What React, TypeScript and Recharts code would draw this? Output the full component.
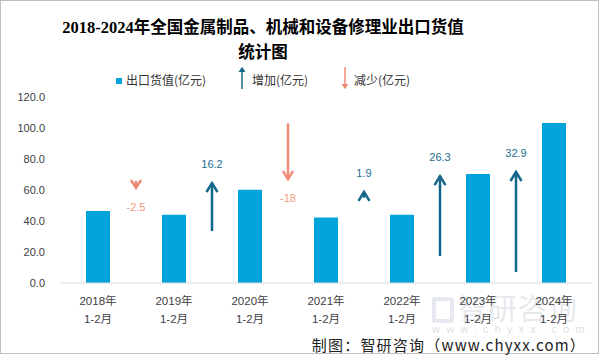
import React from 'react';
import { ComposedChart, Bar, XAxis, YAxis, ReferenceLine } from 'recharts';

const years = ['2018年', '2019年', '2020年', '2021年', '2022年', '2023年', '2024年'];
const months = ['1-2月', '1-2月', '1-2月', '1-2月', '1-2月', '1-2月', '1-2月'];
const exportValues = [46.5, 44.0, 60.2, 42.2, 44.1, 70.4, 103.3];
const yTicks = [0, 20, 40, 60, 80, 100, 120];

// arrows sit on the boundary before each later year: label, tail value, tip value
const changeLabels = ['-2.5', '16.2', '-18', '1.9', '26.3', '32.9'];
const arrowYear = ['2019年', '2020年', '2021年', '2022年', '2023年', '2024年'];
const arrowTail = [66, 33.5, 103, 55, 17.4, 7.1];
const arrowTip = [61.3, 64.5, 67, 58.8, 69, 71.6];

const data = years.map((y, i) => ({ year: y, month: months[i], value: exportValues[i] }));

const UP = '#14678A';
const DOWN = '#EE8A74';
const BAR = '#00A3DA';

const CatTick = (props: any) => {
  const { x, y, payload } = props;
  return (
    <text x={x} textAnchor="middle" fontSize={11.5} fill="#404040" fontFamily="'Liberation Sans', 'Noto Sans CJK SC'">
      <tspan x={x} y={y + 14}>{payload.value}</tspan>
      <tspan x={x} y={y + 32}>{months[payload.index]}</tspan>
    </text>
  );
};

const arrowShape = (label: string) => (p: any) => {
  const { x1, y1, x2, y2 } = p;
  const up = y2 < y1;
  const c = up ? UP : DOWN;
  const s = up ? 1 : -1;
  const hw = up ? 5.5 : 5;
  const hh = up ? 9 : 8;
  return (
    <g>
      <line x1={x1} y1={y1} x2={x2} y2={y2} stroke={c} strokeWidth={2.5} />
      <polyline
        points={`${x2 - hw},${y2 + s * hh} ${x2},${y2} ${x2 + hw},${y2 + s * hh}`}
        fill="none"
        stroke={c}
        strokeWidth={2.5}
      />
      <text
        x={x2}
        y={y2 - s * 19}
        textAnchor="middle"
        dominantBaseline="central"
        fontSize={11}
        fill={up ? '#1C6E92' : '#F09A80'}
        fontFamily="'Liberation Sans', sans-serif"
      >
        {label}
      </text>
    </g>
  );
};

export default function App() {
  return (
    <div style={{ position: 'absolute', left: 0, top: 0, width: 601, height: 356, background: '#fff', overflow: 'hidden' }}>
      <div
        style={{
          position: 'absolute', left: 0, top: 0, width: 599, height: 354,
          border: '1px solid #BFBFBF', boxSizing: 'border-box',
        }}
      />
      <div
        style={{
          position: 'absolute', left: 0, top: 15, width: 526, textAlign: 'center',
          fontFamily: "'Liberation Serif', 'Noto Sans CJK SC'", fontWeight: 'bold', fontSize: 16.5,
          lineHeight: '25px', color: '#000',
        }}
      >
        2018-2024年全国金属制品、机械和设备修理业出口货值
        <br />
        统计图
      </div>
      {/* legend */}
      <div style={{ position: 'absolute', left: 0, top: 66, width: 601, height: 26, fontFamily: "'Noto Sans CJK SC'", fontSize: 12, color: '#333' }}>
        <div style={{ position: 'absolute', left: 116, top: 12, width: 6, height: 6, background: BAR }} />
        <div style={{ position: 'absolute', left: 126, top: 5, lineHeight: '18px' }}>出口货值(亿元)</div>
        <svg style={{ position: 'absolute', left: 236, top: 0 }} width={12} height={24}>
          <line x1={6} y1={2} x2={6} y2={23} stroke={UP} strokeWidth={1.5} />
          <polyline points="3,6 6,1.5 9,6" fill={UP} stroke={UP} strokeWidth={1} />
        </svg>
        <div style={{ position: 'absolute', left: 252, top: 5, lineHeight: '18px' }}>增加(亿元)</div>
        <svg style={{ position: 'absolute', left: 339, top: 0 }} width={12} height={24}>
          <line x1={6} y1={1} x2={6} y2={22} stroke={DOWN} strokeWidth={1.5} />
          <polyline points="3,18 6,22.5 9,18" fill={DOWN} stroke={DOWN} strokeWidth={1} />
        </svg>
        <div style={{ position: 'absolute', left: 354, top: 5, lineHeight: '18px' }}>减少(亿元)</div>
      </div>
      {/* watermark */}
      <div style={{ position: 'absolute', left: 432, top: 297, width: 22, height: 26, border: '4px solid rgba(200,206,220,0.45)', borderRadius: 3, boxSizing: 'border-box' }} />
      <div style={{ position: 'absolute', left: 458, top: 289, fontFamily: "'Noto Sans CJK SC'", fontSize: 29, color: 'rgba(200,204,214,0.45)', lineHeight: '36px', letterSpacing: 1 }}>
        智研咨询
      </div>
      <div style={{ position: 'absolute', left: 432, top: 323, fontFamily: "'Liberation Sans'", fontSize: 11, color: 'rgba(200,204,214,0.65)', letterSpacing: 6.2 }}>
        www.chyxx.com
      </div>
      <div
        style={{
          position: 'absolute', right: 15, top: 335, fontFamily: "'Noto Sans CJK SC'", fontSize: 15,
          color: '#222', lineHeight: '20px', whiteSpace: 'nowrap', letterSpacing: 1.2,
        }}
      >
        制图：智研咨询（www.chyxx.com）
      </div>
      <div style={{ position: 'absolute', left: 0, top: 0 }}>
        <ComposedChart width={601} height={356} data={data} margin={{ top: 97, right: 9, bottom: 43, left: 0 }}>
          <XAxis
            dataKey="year"
            axisLine={{ stroke: '#D9D9D9' }}
            tickLine={false}
            interval={0}
            height={30}
            tick={<CatTick />}
          />
          <YAxis
            domain={[0, 120]}
            ticks={yTicks}
            tickFormatter={(v: number) => v.toFixed(1)}
            axisLine={false}
            tickLine={false}
            width={60}
            tickMargin={9}
            tick={{ fontSize: 11, fill: '#404040', fontFamily: "'Liberation Sans'" }}
          />
          <Bar dataKey="value" fill={BAR} barSize={24} isAnimationActive={false} />
          {changeLabels.map((lab, i) => (
            <ReferenceLine
              key={lab}
              ifOverflow="visible"
              position="start"
              segment={[
                { x: arrowYear[i], y: arrowTail[i] },
                { x: arrowYear[i], y: arrowTip[i] },
              ]}
              shape={arrowShape(lab)}
            />
          ))}
        </ComposedChart>
      </div>
    </div>
  );
}
